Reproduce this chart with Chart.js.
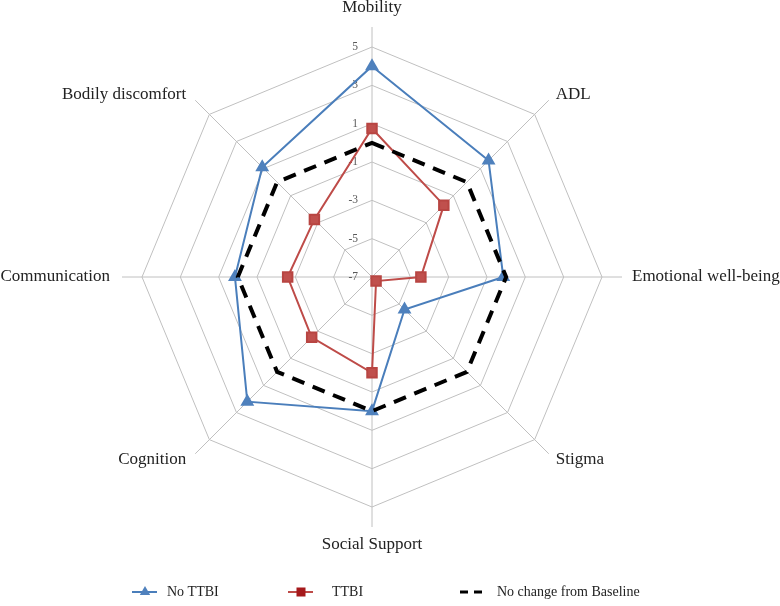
<!DOCTYPE html>
<html>
<head>
<meta charset="utf-8">
<script src="https://cdn.jsdelivr.net/npm/chart.js@4.4.1/dist/chart.umd.min.js"></script>
<style>
  body { margin: 0; background: #fff; }
</style>
</head>
<body>
<canvas id="myChart" width="780" height="606"></canvas>
<script>
let categories = ['Mobility', 'ADL', 'Emotional well-being', 'Stigma', 'Social Support', 'Cognition', 'Communication', 'Bodily discomfort'];
let noTtbi = [4.0, 1.6, -0.15, -4.6, 0, 2.2, 0.15, 1.1];
let ttbi = [0.75, -1.7, -4.45, -6.7, -2.0, -2.55, -2.6, -2.75];
let noChange = [0, 0, 0, 0, 0, 0, 0, 0];
let tickValues = [-7, -5, -3, -1, 1, 3, 5];
let seriesNames = ['No TTBI', 'TTBI', 'No change from Baseline'];

const serif = '"Liberation Serif", "Times New Roman", serif';

// axis extensions, tick labels and category labels
let extras = {
    id: 'extras',
    beforeDatasetsDraw(chart) {
        let s = chart.scales.r;
        let ctx = chart.ctx;
        ctx.save();
        ctx.strokeStyle = '#c0c0c0';
        ctx.lineWidth = 1;
        for (let i = 0; i < categories.length; i++) {
            let a = s.getPointPosition(i, s.drawingArea);
            let b = s.getPointPosition(i, s.drawingArea + 20);
            ctx.beginPath();
            ctx.moveTo(a.x, a.y);
            ctx.lineTo(b.x, b.y);
            ctx.stroke();
        }
        ctx.fillStyle = '#595959';
        ctx.font = '11.5px ' + serif;
        ctx.textAlign = 'right';
        ctx.textBaseline = 'middle';
        for (let v of tickValues) {
            let y = s.yCenter - s.getDistanceFromCenterForValue(v);
            ctx.fillText(String(v), s.xCenter - 14, y);
        }
        ctx.restore();
    },
    afterDraw(chart) {
        let s = chart.scales.r;
        let ctx = chart.ctx;
        ctx.save();
        ctx.fillStyle = '#222';
        ctx.font = '17px ' + serif;
        ctx.textBaseline = 'middle';
        for (let i = 0; i < categories.length; i++) {
            let p = s.getPointPosition(i, s.drawingArea + 20);
            let c = Math.cos(p.angle), sn = Math.sin(p.angle);
            let x = p.x, y = p.y;
            if (Math.abs(c) < 0.1) {
                ctx.textAlign = 'center';
                y += sn > 0 ? 18 : -19;
            } else if (Math.abs(sn) < 0.1) {
                ctx.textAlign = c > 0 ? 'left' : 'right';
                x += c > 0 ? 10 : -12;
            } else {
                ctx.textAlign = c > 0 ? 'left' : 'right';
                x += c > 0 ? 7 : -9;
                y += sn > 0 ? 6 : -6;
            }
            ctx.fillText(categories[i], x, y);
        }

        // legend
        let ly = 592;
        ctx.font = '14px ' + serif;
        ctx.textAlign = 'left';
        ctx.lineWidth = 2;
        ctx.strokeStyle = '#4a7ebb';
        ctx.beginPath(); ctx.moveTo(132, ly); ctx.lineTo(157, ly); ctx.stroke();
        ctx.fillStyle = '#4f81bd';
        ctx.beginPath();
        ctx.moveTo(145, ly - 6); ctx.lineTo(150.2, ly + 3); ctx.lineTo(139.8, ly + 3); ctx.closePath();
        ctx.fill();
        ctx.fillStyle = '#222';
        ctx.fillText(seriesNames[0], 167, ly);

        ctx.strokeStyle = '#be4b48';
        ctx.beginPath(); ctx.moveTo(288, ly); ctx.lineTo(313, ly); ctx.stroke();
        ctx.fillStyle = '#a5191b';
        ctx.fillRect(296.5, ly - 4.5, 9, 9);
        ctx.fillStyle = '#222';
        ctx.fillText(seriesNames[1], 332, ly);

        ctx.strokeStyle = '#000';
        ctx.lineWidth = 3;
        ctx.setLineDash([8, 6]);
        ctx.beginPath(); ctx.moveTo(460, ly); ctx.lineTo(482, ly); ctx.stroke();
        ctx.setLineDash([]);
        ctx.fillText(seriesNames[2], 497, ly);
        ctx.restore();
    }
};

new Chart('myChart', {
    type: 'radar',
    data: {
        labels: categories,
        datasets: [
            {
                label: seriesNames[0],
                data: noTtbi,
                borderColor: '#4a7ebb',
                borderWidth: 2,
                pointStyle: 'triangle',
                pointRadius: 6,
                pointBackgroundColor: '#4f81bd',
                pointBorderColor: '#4f81bd',
                fill: false,
                order: 2
            },
            {
                label: seriesNames[1],
                data: ttbi,
                borderColor: '#be4b48',
                borderWidth: 2,
                pointStyle: 'rect',
                pointRadius: 6.7,
                pointBackgroundColor: '#c0504d',
                pointBorderColor: '#b84542',
                fill: false,
                order: 1
            },
            {
                label: seriesNames[2],
                data: noChange,
                borderColor: '#000',
                borderWidth: 4,
                borderDash: [13, 9],
                pointRadius: 0,
                fill: false,
                order: 0
            }
        ]
    },
    options: {
        responsive: false,
        animation: false,
        layout: {padding: {left: 142, top: 47, right: 178, bottom: 99}},
        elements: {line: {tension: 0}},
        plugins: {legend: {display: false}, tooltip: {enabled: false}},
        scales: {
            r: {
                min: -7,
                max: 5,
                ticks: {stepSize: 2, display: false},
                grid: {color: '#c0c0c0', circular: false},
                angleLines: {color: '#c0c0c0'},
                pointLabels: {display: false}
            }
        }
    },
    plugins: [extras]
});
</script>
</body>
</html>
